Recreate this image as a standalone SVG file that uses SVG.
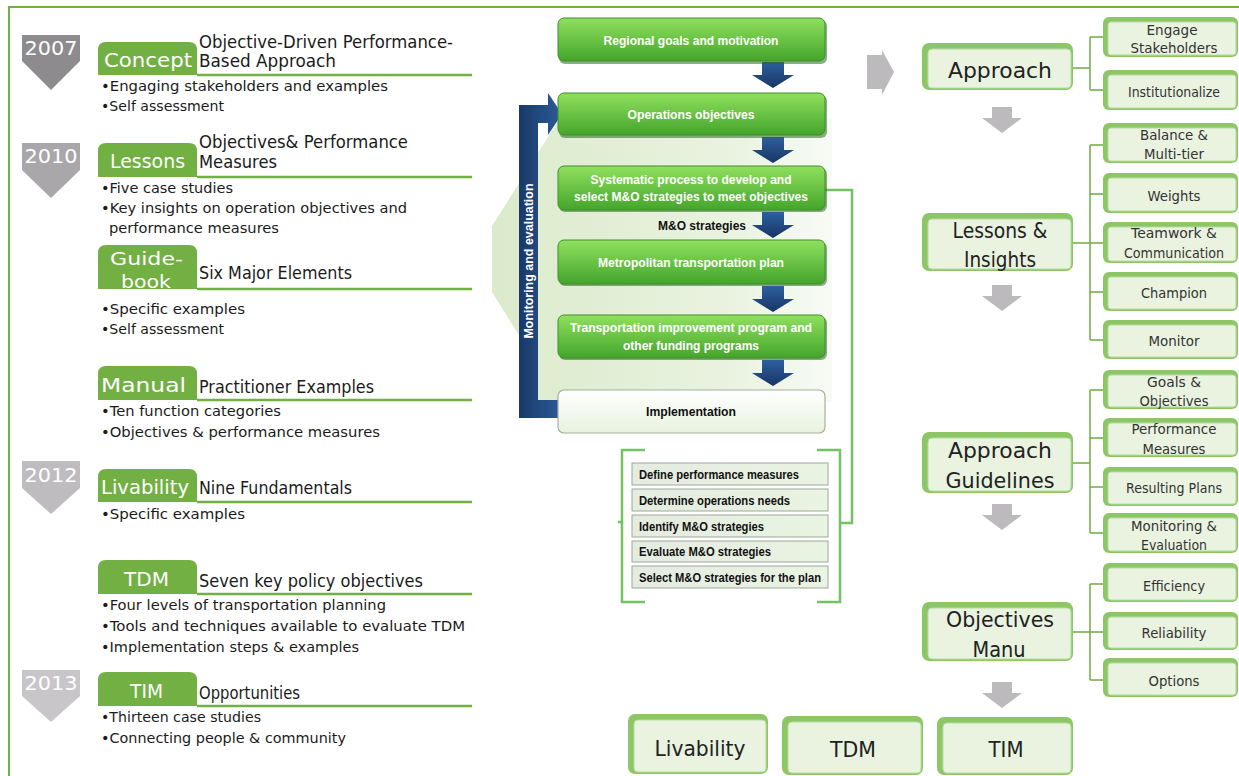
<svg xmlns="http://www.w3.org/2000/svg" width="1239" height="776" viewBox="0 0 1239 776">
<defs>
  <linearGradient id="gbox" x1="0" y1="0" x2="0" y2="1">
    <stop offset="0" stop-color="#90e05e"/><stop offset="1" stop-color="#44a52b"/>
  </linearGradient>
  <linearGradient id="impl" x1="0" y1="0" x2="0" y2="1">
    <stop offset="0" stop-color="#ffffff"/><stop offset="1" stop-color="#e8f2df"/>
  </linearGradient>
  <linearGradient id="navyH" x1="0" y1="0" x2="1" y2="0">
    <stop offset="0" stop-color="#1a3868"/><stop offset="1" stop-color="#2b5c9b"/>
  </linearGradient>
  <linearGradient id="navyV" x1="0" y1="0" x2="0" y2="1">
    <stop offset="0" stop-color="#2d609f"/><stop offset="1" stop-color="#183565"/>
  </linearGradient>
  <linearGradient id="pale" x1="0" y1="0" x2="1" y2="0">
    <stop offset="0" stop-color="#dbeacb"/><stop offset="0.7" stop-color="#e9f3e0"/><stop offset="1" stop-color="#f8fbf5"/>
  </linearGradient>
  <linearGradient id="item" x1="0" y1="0" x2="1" y2="0">
    <stop offset="0" stop-color="#e4ebe0"/><stop offset="1" stop-color="#e9f4e2"/>
  </linearGradient>
  <path id="barrow" d="M-11,0 H11 V13 H21 L0,26 L-21,13 H-11 Z"/>
  <path id="garrow" d="M-10,0 H10 V11 H20 L0,26 L-20,11 H-10 Z"/>
  <style>
    .cg { font-family: "DejaVu Sans", "Liberation Sans", sans-serif; }
    .hd { font-size: 17px; fill: #1b1b1b; }
    .bl { font-size: 14.5px; fill: #1b1b1b; }
    .tabt { font-size: 20px; fill: #ffffff; }
    .tabs { font-size: 18px; fill: #ffffff; }
    .yr { font-size: 20px; fill: #ffffff; text-anchor: middle; }
    .tab { fill: #72b043; }
    .uline { stroke: #72b043; stroke-width: 2.5; fill: none; }
    .fb { font-family: "Liberation Sans", Arial, sans-serif; font-weight: bold; font-size: 12.5px; fill: #ffffff; text-anchor: middle; }
    .it { font-family: "Liberation Sans", Arial, sans-serif; font-weight: bold; font-size: 12px; fill: #111111; }
    .flow { fill: url(#gbox); stroke: #3f8f2a; stroke-width: 1; }
    .shadow { fill: #2e6a20; opacity: 0.55; }
    .itembox { fill: url(#item); stroke: #9ea89a; stroke-width: 1; }
    .brk { stroke: #73c266; stroke-width: 2.5; fill: none; }
    .outer { fill: #8cc665; }
    .inner { fill: #e9f3e0; stroke: #b8dba4; stroke-width: 1; }
    .big { font-size: 21px; fill: #222222; text-anchor: middle; }
    .sm { font-size: 13.5px; fill: #333333; text-anchor: middle; }
    .tree { stroke: #6eac45; stroke-width: 1.5; fill: none; }
    .garr { fill: #bdbabd; }
  </style>
</defs>

<rect x="0" y="0" width="1239" height="776" fill="#ffffff"/>
<g id="frame">
  <path d="M9,776 V7 H1239" stroke="#6db33f" stroke-width="2" fill="none"/>
</g>

<!-- Left timeline -->
<g id="year-2007">
  <path d="M22,35 H80 V61 L51,90 L22,61 Z" fill="#8d8b8e"/>
  <text class="cg yr" x="51" y="55" textLength="53" lengthAdjust="spacingAndGlyphs">2007</text>
</g>
<g id="year-2010">
  <path d="M22,143 H80 V170 L51,198 L22,170 Z" fill="#a9a7aa"/>
  <text class="cg yr" x="51" y="163" textLength="53" lengthAdjust="spacingAndGlyphs">2010</text>
</g>
<g id="year-2012">
  <path d="M22,461 H80 V488 L51,514 L22,488 Z" fill="#bebcbf"/>
  <text class="cg yr" x="51" y="482" textLength="53" lengthAdjust="spacingAndGlyphs">2012</text>
</g>
<g id="year-2013">
  <path d="M22,670 H80 V696 L51,722 L22,696 Z" fill="#c8c6c9"/>
  <text class="cg yr" x="51" y="690" textLength="53" lengthAdjust="spacingAndGlyphs">2013</text>
</g>

<g id="concept">
  <path class="tab" d="M98,75 V50 Q98,42 106,42 H189 Q197,42 197,50 V75 Z"/>
  <path class="uline" d="M197,75 H472"/>
  <text class="cg tabt" x="104" y="67" textLength="88" lengthAdjust="spacingAndGlyphs">Concept</text>
  <text class="cg hd" x="199" y="48" textLength="254" lengthAdjust="spacingAndGlyphs">Objective-Driven Performance-</text>
  <text class="cg hd" x="199" y="67" textLength="137" lengthAdjust="spacingAndGlyphs">Based Approach</text>
  <text class="cg bl" x="101" y="91" textLength="287" lengthAdjust="spacingAndGlyphs">•Engaging stakeholders and examples</text>
  <text class="cg bl" x="101" y="111" textLength="123" lengthAdjust="spacingAndGlyphs">•Self assessment</text>
</g>

<g id="lessons">
  <path class="tab" d="M98,177 V151 Q98,143 106,143 H189 Q197,143 197,151 V177 Z"/>
  <path class="uline" d="M197,177 H472"/>
  <text class="cg tabt" x="110" y="168" textLength="75" lengthAdjust="spacingAndGlyphs">Lessons</text>
  <text class="cg hd" x="199" y="148" textLength="209" lengthAdjust="spacingAndGlyphs">Objectives&amp; Performance</text>
  <text class="cg hd" x="199" y="168" textLength="78" lengthAdjust="spacingAndGlyphs">Measures</text>
  <text class="cg bl" x="101" y="193" textLength="132" lengthAdjust="spacingAndGlyphs">•Five case studies</text>
  <text class="cg bl" x="101" y="213" textLength="306" lengthAdjust="spacingAndGlyphs">•Key insights on operation objectives and</text>
  <text class="cg bl" x="109" y="233" textLength="170" lengthAdjust="spacingAndGlyphs">performance measures</text>
</g>

<g id="guidebook">
  <path class="tab" d="M98,289 V253 Q98,245 106,245 H189 Q197,245 197,253 V289 Z"/>
  <path class="uline" d="M197,289 H472"/>
  <text class="cg tabs" x="110" y="265" textLength="73" lengthAdjust="spacingAndGlyphs">Guide-</text>
  <text class="cg tabs" x="121" y="288" textLength="50" lengthAdjust="spacingAndGlyphs">book</text>
  <text class="cg hd" x="199" y="279" textLength="153" lengthAdjust="spacingAndGlyphs">Six Major Elements</text>
  <text class="cg bl" x="101" y="314" textLength="144" lengthAdjust="spacingAndGlyphs">•Specific examples</text>
  <text class="cg bl" x="101" y="334" textLength="123" lengthAdjust="spacingAndGlyphs">•Self assessment</text>
</g>

<g id="manual">
  <path class="tab" d="M98,400 V374 Q98,366 106,366 H189 Q197,366 197,374 V400 Z"/>
  <path class="uline" d="M197,400 H472"/>
  <text class="cg tabt" x="101" y="392" textLength="85" lengthAdjust="spacingAndGlyphs">Manual</text>
  <text class="cg hd" x="199" y="393" textLength="175" lengthAdjust="spacingAndGlyphs">Practitioner Examples</text>
  <text class="cg bl" x="101" y="416" textLength="180" lengthAdjust="spacingAndGlyphs">•Ten function categories</text>
  <text class="cg bl" x="101" y="437" textLength="279" lengthAdjust="spacingAndGlyphs">•Objectives &amp; performance measures</text>
</g>

<g id="livability">
  <path class="tab" d="M98,502 V477 Q98,469 106,469 H189 Q197,469 197,477 V502 Z"/>
  <path class="uline" d="M197,502 H472"/>
  <text class="cg tabt" x="101" y="494" textLength="88" lengthAdjust="spacingAndGlyphs">Livability</text>
  <text class="cg hd" x="199" y="494" textLength="153" lengthAdjust="spacingAndGlyphs">Nine Fundamentals</text>
  <text class="cg bl" x="101" y="519" textLength="144" lengthAdjust="spacingAndGlyphs">•Specific examples</text>
</g>

<g id="tdm">
  <path class="tab" d="M98,594 V568 Q98,560 106,560 H189 Q197,560 197,568 V594 Z"/>
  <path class="uline" d="M197,594 H472"/>
  <text class="cg tabt" x="124" y="586" textLength="45" lengthAdjust="spacingAndGlyphs">TDM</text>
  <text class="cg hd" x="199" y="587" textLength="224" lengthAdjust="spacingAndGlyphs">Seven key policy objectives</text>
  <text class="cg bl" x="101" y="610" textLength="285" lengthAdjust="spacingAndGlyphs">•Four levels of transportation planning</text>
  <text class="cg bl" x="101" y="631" textLength="364" lengthAdjust="spacingAndGlyphs">•Tools and techniques available to evaluate TDM</text>
  <text class="cg bl" x="101" y="652" textLength="258" lengthAdjust="spacingAndGlyphs">•Implementation steps &amp; examples</text>
</g>

<g id="tim">
  <path class="tab" d="M98,706 V680 Q98,672 106,672 H189 Q197,672 197,680 V706 Z"/>
  <path class="uline" d="M197,706 H472"/>
  <text class="cg tabt" x="130" y="698" textLength="33" lengthAdjust="spacingAndGlyphs">TIM</text>
  <text class="cg hd" x="199" y="699" textLength="101" lengthAdjust="spacingAndGlyphs">Opportunities</text>
  <text class="cg bl" x="101" y="722" textLength="160" lengthAdjust="spacingAndGlyphs">•Thirteen case studies</text>
  <text class="cg bl" x="101" y="743" textLength="245" lengthAdjust="spacingAndGlyphs">•Connecting people &amp; community</text>
</g>

<!-- Center process -->
<g id="process-background">
  <path d="M560,118 L492,226 L492,292 L528,350 L528,402 L832,402 L832,118 Z" fill="url(#pale)"/>
</g>

<g id="connectors">
  <!-- monitoring loop -->
  <path d="M558,418 H519 V105 H548 V93 L562,114 L548,135 V123 H538 V400 H558 Z" fill="url(#navyH)"/>
  <!-- blue down arrows -->
  <use href="#barrow" x="773" y="62" fill="url(#navyV)"/>
  <use href="#barrow" x="773" y="137" fill="url(#navyV)"/>
  <use href="#barrow" x="773" y="212" fill="url(#navyV)"/>
  <use href="#barrow" x="773" y="286" fill="url(#navyV)"/>
  <use href="#barrow" x="773" y="360" fill="url(#navyV)"/>
  <!-- bracket connection -->
  <path class="brk" d="M825,190 H852 V523 H840"/>
  <path class="brk" d="M645,450 H622 V602 H645"/>
  <path class="brk" d="M817,450 H840 V602 H817"/>
  <path class="brk" d="M622,522 H618" stroke-width="1.5"/>
  <!-- gray arrows right column -->
  <path class="garr" d="M867,55 H882 V50 L894,72 L882,95 V89 H867 Z"/>
  <use href="#garrow" class="garr" x="1002" y="107"/>
  <use href="#garrow" class="garr" x="1002" y="285"/>
  <use href="#garrow" class="garr" x="1002" y="504"/>
  <use href="#garrow" class="garr" x="1002" y="682"/>
  <!-- trees -->
  <path class="tree" d="M1073,68 H1090 M1090,37 V90 M1090,37 H1105 M1090,90 H1105"/>
  <path class="tree" d="M1073,243 H1090 M1090,145 V340 M1090,145 H1105 M1090,194 H1105 M1090,243 H1105 M1090,292 H1105 M1090,340 H1105"/>
  <path class="tree" d="M1073,463 H1090 M1090,390 V533 M1090,390 H1105 M1090,438 H1105 M1090,487 H1105 M1090,533 H1105"/>
  <path class="tree" d="M1073,632 H1090 M1090,584 V680 M1090,584 H1105 M1090,632 H1105 M1090,680 H1105"/>
</g>

<g id="monitoring-label">
  <text class="fb" transform="translate(533,261) rotate(-90)" textLength="155" lengthAdjust="spacingAndGlyphs">Monitoring and evaluation</text>
</g>

<g id="regional-goals">
  <rect class="shadow" x="559" y="20" width="268" height="44" rx="6"/>
  <rect class="flow" x="558" y="18" width="267" height="43" rx="6"/>
  <text class="fb" x="691" y="45" textLength="175" lengthAdjust="spacingAndGlyphs">Regional goals and motivation</text>
</g>
<g id="operations-objectives">
  <rect class="shadow" x="559" y="95" width="268" height="43" rx="6"/>
  <rect class="flow" x="558" y="93" width="267" height="42" rx="6"/>
  <text class="fb" x="691" y="119" textLength="127" lengthAdjust="spacingAndGlyphs">Operations objectives</text>
</g>
<g id="systematic-process">
  <rect class="shadow" x="559" y="168" width="268" height="44" rx="6"/>
  <rect class="flow" x="558" y="166" width="267" height="44" rx="6"/>
  <text class="fb" x="691" y="184" textLength="201" lengthAdjust="spacingAndGlyphs">Systematic process to develop and</text>
  <text class="fb" x="691" y="201" textLength="234" lengthAdjust="spacingAndGlyphs">select M&amp;O strategies to meet objectives</text>
</g>
<g id="mo-strategies-label">
  <text class="it" x="702" y="230" text-anchor="middle" textLength="88" lengthAdjust="spacingAndGlyphs">M&amp;O strategies</text>
</g>
<g id="metropolitan-plan">
  <rect class="shadow" x="559" y="242" width="268" height="44" rx="6"/>
  <rect class="flow" x="558" y="240" width="267" height="44" rx="6"/>
  <text class="fb" x="691" y="267" textLength="186" lengthAdjust="spacingAndGlyphs">Metropolitan transportation plan</text>
</g>
<g id="tip">
  <rect class="shadow" x="559" y="317" width="268" height="43" rx="6"/>
  <rect class="flow" x="558" y="315" width="267" height="43" rx="6"/>
  <text class="fb" x="691" y="332" textLength="242" lengthAdjust="spacingAndGlyphs">Transportation improvement program and</text>
  <text class="fb" x="691" y="350" textLength="136" lengthAdjust="spacingAndGlyphs">other funding programs</text>
</g>
<g id="implementation">
  <rect x="558" y="390" width="267" height="43" rx="6" fill="url(#impl)" stroke="#a3b09c" stroke-width="1.2"/>
  <text class="it" x="691" y="416" text-anchor="middle" textLength="90" lengthAdjust="spacingAndGlyphs">Implementation</text>
</g>

<g id="steps">
  <rect class="itembox" x="632" y="463" width="196" height="22"/>
  <text class="it" x="639" y="479" textLength="160" lengthAdjust="spacingAndGlyphs">Define performance measures</text>
  <rect class="itembox" x="632" y="489" width="196" height="22"/>
  <text class="it" x="639" y="505" textLength="151" lengthAdjust="spacingAndGlyphs">Determine operations needs</text>
  <rect class="itembox" x="632" y="515" width="196" height="22"/>
  <text class="it" x="639" y="531" textLength="125" lengthAdjust="spacingAndGlyphs">Identify M&amp;O strategies</text>
  <rect class="itembox" x="632" y="541" width="196" height="21"/>
  <text class="it" x="639" y="556" textLength="132" lengthAdjust="spacingAndGlyphs">Evaluate M&amp;O strategies</text>
  <rect class="itembox" x="632" y="566" width="196" height="22"/>
  <text class="it" x="639" y="582" textLength="182" lengthAdjust="spacingAndGlyphs">Select M&amp;O strategies for the plan</text>
</g>

<!-- Bottom boxes -->
<g id="box-livability">
  <rect class="outer" x="628" y="714" width="140" height="60" rx="7"/>
  <rect class="inner" x="634" y="720" width="132" height="52" rx="4"/>
  <text class="cg big" x="700" y="756" textLength="91" lengthAdjust="spacingAndGlyphs">Livability</text>
</g>
<g id="box-tdm">
  <rect class="outer" x="782" y="716" width="141" height="59" rx="7"/>
  <rect class="inner" x="788" y="722" width="133" height="51" rx="4"/>
  <text class="cg big" x="853" y="757" textLength="46" lengthAdjust="spacingAndGlyphs">TDM</text>
</g>
<g id="box-tim">
  <rect class="outer" x="937" y="717" width="136" height="58" rx="7"/>
  <rect class="inner" x="943" y="723" width="128" height="50" rx="4"/>
  <text class="cg big" x="1006" y="757" textLength="35" lengthAdjust="spacingAndGlyphs">TIM</text>
</g>

<!-- Right column main boxes -->
<g id="approach">
  <rect class="outer" x="922" y="43" width="151" height="47" rx="7"/>
  <rect class="inner" x="928" y="49" width="143" height="39" rx="4"/>
  <text class="cg big" x="1000" y="78" textLength="104" lengthAdjust="spacingAndGlyphs">Approach</text>
</g>
<g id="lessons-insights">
  <rect class="outer" x="922" y="213" width="151" height="58" rx="7"/>
  <rect class="inner" x="928" y="219" width="143" height="50" rx="4"/>
  <text class="cg big" x="1000" y="238" textLength="95" lengthAdjust="spacingAndGlyphs">Lessons &amp;</text>
  <text class="cg big" x="1000" y="267" textLength="72" lengthAdjust="spacingAndGlyphs">Insights</text>
</g>
<g id="approach-guidelines">
  <rect class="outer" x="922" y="432" width="151" height="61" rx="7"/>
  <rect class="inner" x="928" y="438" width="143" height="53" rx="4"/>
  <text class="cg big" x="1000" y="458" textLength="104" lengthAdjust="spacingAndGlyphs">Approach</text>
  <text class="cg big" x="1000" y="488" textLength="109" lengthAdjust="spacingAndGlyphs">Guidelines</text>
</g>
<g id="objectives-manu">
  <rect class="outer" x="922" y="602" width="151" height="59" rx="7"/>
  <rect class="inner" x="928" y="608" width="143" height="51" rx="4"/>
  <text class="cg big" x="1000" y="627" textLength="108" lengthAdjust="spacingAndGlyphs">Objectives</text>
  <text class="cg big" x="999" y="657" textLength="53" lengthAdjust="spacingAndGlyphs">Manu</text>
</g>

<!-- Right column child boxes -->
<g id="engage-stakeholders">
  <rect class="outer" x="1103" y="17" width="135" height="40" rx="6"/>
  <rect class="inner" x="1108" y="22" width="128" height="33" rx="3"/>
  <text class="cg sm" x="1172" y="35" textLength="51" lengthAdjust="spacingAndGlyphs">Engage</text>
  <text class="cg sm" x="1174" y="53" textLength="87" lengthAdjust="spacingAndGlyphs">Stakeholders</text>
</g>
<g id="institutionalize">
  <rect class="outer" x="1103" y="70" width="135" height="40" rx="6"/>
  <rect class="inner" x="1108" y="75" width="128" height="33" rx="3"/>
  <text class="cg sm" x="1174" y="97" textLength="92" lengthAdjust="spacingAndGlyphs">Institutionalize</text>
</g>
<g id="balance">
  <rect class="outer" x="1103" y="123" width="135" height="40" rx="6"/>
  <rect class="inner" x="1108" y="128" width="128" height="33" rx="3"/>
  <text class="cg sm" x="1174" y="140" textLength="68" lengthAdjust="spacingAndGlyphs">Balance &amp;</text>
  <text class="cg sm" x="1174" y="159" textLength="60" lengthAdjust="spacingAndGlyphs">Multi-tier</text>
</g>
<g id="weights">
  <rect class="outer" x="1103" y="173" width="135" height="40" rx="6"/>
  <rect class="inner" x="1108" y="178" width="128" height="33" rx="3"/>
  <text class="cg sm" x="1174" y="201" textLength="53" lengthAdjust="spacingAndGlyphs">Weights</text>
</g>
<g id="teamwork">
  <rect class="outer" x="1103" y="222" width="135" height="41" rx="6"/>
  <rect class="inner" x="1108" y="227" width="128" height="34" rx="3"/>
  <text class="cg sm" x="1174" y="238" textLength="86" lengthAdjust="spacingAndGlyphs">Teamwork &amp;</text>
  <text class="cg sm" x="1174" y="258" textLength="100" lengthAdjust="spacingAndGlyphs">Communication</text>
</g>
<g id="champion">
  <rect class="outer" x="1103" y="272" width="135" height="39" rx="6"/>
  <rect class="inner" x="1108" y="277" width="128" height="32" rx="3"/>
  <text class="cg sm" x="1174" y="298" textLength="66" lengthAdjust="spacingAndGlyphs">Champion</text>
</g>
<g id="monitor">
  <rect class="outer" x="1103" y="320" width="135" height="39" rx="6"/>
  <rect class="inner" x="1108" y="325" width="128" height="32" rx="3"/>
  <text class="cg sm" x="1174" y="346" textLength="51" lengthAdjust="spacingAndGlyphs">Monitor</text>
</g>
<g id="goals-objectives">
  <rect class="outer" x="1103" y="370" width="135" height="39" rx="6"/>
  <rect class="inner" x="1108" y="375" width="128" height="32" rx="3"/>
  <text class="cg sm" x="1174" y="387" textLength="54" lengthAdjust="spacingAndGlyphs">Goals &amp;</text>
  <text class="cg sm" x="1174" y="406" textLength="69" lengthAdjust="spacingAndGlyphs">Objectives</text>
</g>
<g id="performance-measures">
  <rect class="outer" x="1103" y="418" width="135" height="39" rx="6"/>
  <rect class="inner" x="1108" y="423" width="128" height="32" rx="3"/>
  <text class="cg sm" x="1174" y="434" textLength="85" lengthAdjust="spacingAndGlyphs">Performance</text>
  <text class="cg sm" x="1174" y="454" textLength="63" lengthAdjust="spacingAndGlyphs">Measures</text>
</g>
<g id="resulting-plans">
  <rect class="outer" x="1103" y="467" width="135" height="39" rx="6"/>
  <rect class="inner" x="1108" y="472" width="128" height="32" rx="3"/>
  <text class="cg sm" x="1174" y="493" textLength="96" lengthAdjust="spacingAndGlyphs">Resulting Plans</text>
</g>
<g id="monitoring-evaluation">
  <rect class="outer" x="1103" y="513" width="135" height="40" rx="6"/>
  <rect class="inner" x="1108" y="518" width="128" height="33" rx="3"/>
  <text class="cg sm" x="1174" y="531" textLength="86" lengthAdjust="spacingAndGlyphs">Monitoring &amp;</text>
  <text class="cg sm" x="1174" y="550" textLength="66" lengthAdjust="spacingAndGlyphs">Evaluation</text>
</g>
<g id="efficiency">
  <rect class="outer" x="1103" y="563" width="135" height="39" rx="6"/>
  <rect class="inner" x="1108" y="568" width="128" height="32" rx="3"/>
  <text class="cg sm" x="1174" y="591" textLength="62" lengthAdjust="spacingAndGlyphs">Efficiency</text>
</g>
<g id="reliability">
  <rect class="outer" x="1103" y="612" width="135" height="38" rx="6"/>
  <rect class="inner" x="1108" y="617" width="128" height="31" rx="3"/>
  <text class="cg sm" x="1174" y="638" textLength="65" lengthAdjust="spacingAndGlyphs">Reliability</text>
</g>
<g id="options">
  <rect class="outer" x="1103" y="658" width="135" height="39" rx="6"/>
  <rect class="inner" x="1108" y="663" width="128" height="32" rx="3"/>
  <text class="cg sm" x="1174" y="686" textLength="51" lengthAdjust="spacingAndGlyphs">Options</text>
</g>
</svg>
